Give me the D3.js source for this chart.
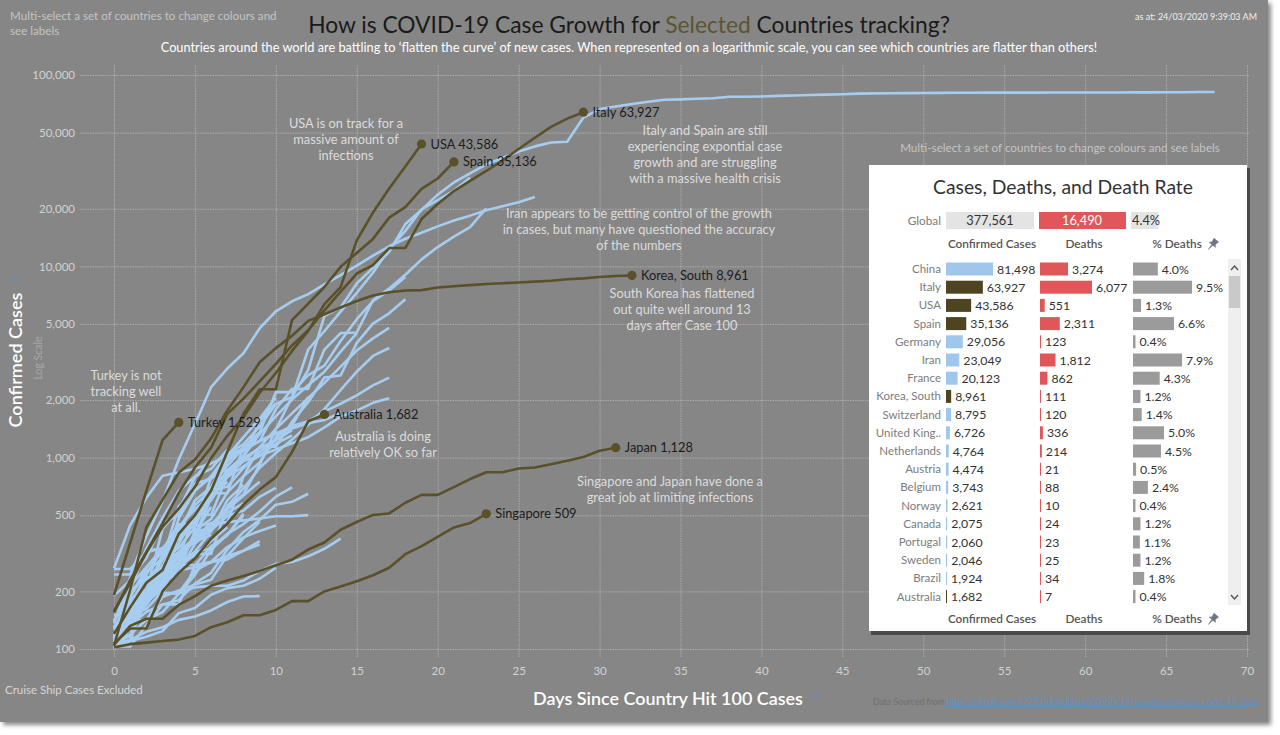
<!DOCTYPE html>
<html><head><meta charset="utf-8">
<script src="https://cdn.jsdelivr.net/npm/d3@7"></script>
<style>body{margin:0;background:#fff}svg{display:block}</style>
</head><body>
<svg id="c" width="1280" height="735"></svg>
<script>
// ---------- DATA ----------
const xTicks = [0,5,10,15,20,25,30,35,40,45,50,55,60,65,70];
const yTicks = [100,200,500,1000,2000,5000,10000,20000,50000,100000];

// highlighted (selected) countries: confirmed cases by day since 100 cases
const selectedNames = ["Italy","USA","Spain","Korea, South","Turkey","Australia","Japan","Singapore"];
const italy = [155,229,322,453,655,888,1128,1694,2036,2502,3089,3858,4636,5883,7375,9172,10149,12462,12462,17660,21157,24747,27980,31506,35713,41035,47021,53578,59138,63927];
const usa = [158,221,319,435,541,704,994,1301,1630,2183,2770,3613,4596,6344,7787,13677,19100,25489,33276,43586];
const spain = [120,165,222,259,400,500,673,1073,1695,2277,2277,5232,6391,7798,9942,11748,13910,17963,20410,25374,28768,35136];
const korea = [104,204,433,602,833,977,1261,1766,2337,3150,3736,4335,5186,5621,6088,6593,7041,7314,7478,7513,7755,7869,7979,8086,8162,8236,8320,8413,8565,8652,8799,8897,8961];
const turkey = [191,359,670,1236,1529];
const australia = [107,128,128,200,250,297,377,452,568,681,791,1071,1549,1682];
const japan = [105,132,144,144,170,189,214,228,241,256,274,293,331,360,420,461,502,511,581,639,639,701,773,839,839,878,889,924,963,1007,1086,1128];
const singapore = [102,106,108,110,112,117,130,138,150,150,160,178,178,200,212,226,243,266,313,345,385,432,455,509];
const selectedValues = [italy,usa,spain,korea,turkey,australia,japan,singapore];

// other countries
const china = [104,130,172,221,290,378,446,548,643,920,1406,2075,2877,5509,6087,8141,9802,11891,16630,19716,23707,27440,30587,34110,36814,39829,42354,44386,44759,59895,66358,68413,70513,72434,74211,74619,75077,75550,77001,77022,77241,77754,78166,78600,78928,79356,79932,80136,80261,80386,80537,80690,80770,80823,80860,80887,80921,80932,80945,80977,81003,81033,81058,81102,81156,81250,81305,81435,81498];
const germany = [130,159,196,262,482,670,799,1040,1176,1457,1908,2078,3675,4585,5795,7272,9257,12327,15320,19848,22213,24873,29056];
const iran = [245,245,388,593,978,1501,2336,2922,3513,4747,5823,6566,7161,8042,9000,10075,11364,12729,13938,14991,16169,17361,18407,19644,20610,21638,23049];
const france = [100,130,191,204,288,380,656,957,1134,1217,1792,2289,2289,3672,4480,4513,6650,7652,9043,10871,12612,14282,16018,20123];
const switzerland = [114,214,268,337,374,491,652,652,1139,1359,2200,2200,2700,3028,4075,5294,6575,7474,8795];
const uk = [115,163,206,273,321,382,456,456,798,1140,1140,1543,1950,2626,2689,3983,5018,5683,6726];
const netherlands = [128,188,265,321,382,503,503,804,959,1135,1413,1705,2051,2460,2994,3631,4204,4764];
const austria = [104,131,182,246,302,504,655,860,1018,1332,1646,2013,2388,2814,3582,4474];
const belgium = [109,169,200,239,267,314,314,559,689,886,1058,1243,1486,1795,2257,2815,3401,3743];
const norway = [108,147,176,205,400,598,702,996,1090,1221,1333,1463,1550,1746,1914,2118,2385,2621];
const canada = [108,117,193,198,252,415,478,657,800,943,1277,1469,2075];
const portugal = [112,169,245,331,448,448,785,1020,1280,1600,2060];
const sweden = [101,161,203,248,355,500,599,814,961,1022,1103,1190,1279,1439,1639,1763,1934,2046];
const brazil = [151,151,162,200,321,372,621,793,1021,1546,1924];
const denmark = [264,444,617,804,836,875,933,1025,1116,1225,1337,1420,1514,1572,1718];
const malaysia = [129,149,197,238,428,566,673,790,900,1030,1183,1306];
const israel = [126,178,193,298,337,433,677,705,883,1071,1238];
const czechia = [141,189,253,298,396,464,694,833,995,1120,1236,1394];
const ireland = [129,169,223,292,557,683,785,906,1125,1329];
const luxembourg = [140,203,335,484,670,798,875,1099];
const ecuador = [111,168,199,426,532,789,981];
const chile = [155,201,238,238,434,537,632,746];
const pakistan = [136,236,299,454,501,730,776,875];
const poland = [103,119,177,238,251,355,425,536,634,749];
const finland = [109,156,225,244,277,321,336,400,450,523,626,700];
const greece = [190,228,331,331,387,418,418,495,530,624,695];
const thailand = [114,147,177,212,272,322,411,599,721];
const saudi = [103,103,133,171,171,274,344,392,511];
const indonesia = [117,134,172,227,311,369,450,514,579];
const iceland = [103,134,156,171,180,220,250,330,409,473,568,588,648];
const qatar = [262,262,320,337,401,439,452,460,470,481,494,494,501];
const philippines = [111,140,142,187,202,217,230,307,380,462];
const slovenia = [141,181,219,253,275,275,286,341,383,414,442];
const egypt = [110,150,196,196,196,256,285,294,327,366];
const india = [113,119,142,156,194,244,330,396,499];
const romania = [131,158,184,260,277,308,367,433];
const bahrain = [109,110,195,195,195,210,214,214,228,256,278,285,305,334,377];
const estonia = [115,171,205,225,258,267,283,306,326,352];
const russia = [114,147,199,253,306,367,438];
const southAfrica = [116,116,202,240,274,402,554];
const mexico = [118,164,203,251,316,367];
const peru = [117,145,234,234,318,363,395];
const kuwait = [104,112,123,130,142,148,159,176,188,189];
const iraq = [101,110,116,124,154,164,192,208,214,233,266];
const croatia = [105,128,206,254,315,382];
const panama = [109,137,200,313,345];
const colombia = [102,128,196,231,277];
const serbia = [103,135,171,222,249];
const otherValues = [china,germany,iran,france,switzerland,uk,netherlands,austria,belgium,norway,canada,portugal,sweden,brazil,denmark,malaysia,israel,czechia,ireland,luxembourg,ecuador,chile,pakistan,poland,finland,greece,thailand,saudi,indonesia,iceland,qatar,philippines,slovenia,egypt,india,romania,bahrain,estonia,russia,southAfrica,mexico,peru,kuwait,iraq,croatia,panama,colombia,serbia];

// table
const tableCountries = ["China","Italy","USA","Spain","Germany","Iran","France","Korea, South","Switzerland","United King..","Netherlands","Austria","Belgium","Norway","Canada","Portugal","Sweden","Brazil","Australia"];
const tableCases = [81498,63927,43586,35136,29056,23049,20123,8961,8795,6726,4764,4474,3743,2621,2075,2060,2046,1924,1682];
const tableDeaths = [3274,6077,551,2311,123,1812,862,111,120,336,214,21,88,10,24,23,25,34,7];
const tablePct = [4.0,9.5,1.3,6.6,0.4,7.9,4.3,1.2,1.4,5.0,4.5,0.5,2.4,0.4,1.2,1.1,1.2,1.8,0.4];
const tableSelected = ["Italy","USA","Spain","Korea, South","Australia"];
const globalCases = 377561, globalDeaths = 16490, globalPct = 4.4;

const annotations = [
  ["USA is on track for a","massive amount of","infections"],
  ["Italy and Spain are still","experiencing expontial case","growth and are struggling","with a  massive health crisis"],
  ["Iran appears to be getting control of the growth","in cases, but many have questioned the accuracy","of the numbers"],
  ["South Korea has flattened","out quite well around 13","days after Case 100"],
  ["Turkey is not","tracking well","at all."],
  ["Australia is doing","relatively OK so far"],
  ["Singapore and Japan have done a","great job at limiting infections"]
];

// ---------- DRAW ----------
const FONT = "Lato, 'Noto Sans', sans-serif";
const BLUE = "#a6cdef", OLIVE = "#5a5029", BG = "#868686";
const svg = d3.select("#c").attr("font-family", FONT);
const fmt = d3.format(",");

function fit(t, target){
  const len = t.node().getComputedTextLength();
  const fs = parseFloat(t.attr("font-size")) * target / len;
  t.attr("font-size", fs); return fs;
}
function pin(x0, y0, col){
  svg.append("path").attr("transform", `translate(${x0},${y0}) rotate(40)`)
    .attr("d","M-3,-5 L3,-5 L2,-1 L4,1 L-4,1 L-2,-1 Z M-0.6,1 L0.6,1 L0,7 Z")
    .attr("fill", col).attr("stroke", col).attr("stroke-width", 0.6);
}

const defs = svg.append("defs");
defs.append("filter").attr("id","sh").attr("x","-5%").attr("y","-5%").attr("width","110%").attr("height","110%")
  .append("feGaussianBlur").attr("stdDeviation", 2.2);
svg.append("rect").attr("x",3).attr("y",3).attr("width",1268).attr("height",722).attr("fill","#8a8a8a").attr("filter","url(#sh)");
svg.append("rect").attr("width",1268).attr("height",722).attr("fill",BG);

const x = d3.scaleLinear().domain([0,70]).range([114,1247]);
const y = d3.scaleLog().domain([100,100000]).range([649,75]);

const gy = svg.append("g").attr("transform","translate(80,0)")
  .call(d3.axisLeft(y).tickValues(yTicks).tickFormat(fmt).tickSizeInner(-1170).tickSizeOuter(0).tickPadding(5));
gy.select(".domain").remove();
gy.selectAll("line").attr("stroke","#ababab").attr("stroke-dasharray","1.5,1");
gy.selectAll("text").attr("fill","#d2d2d2").attr("font-size",11.5).attr("font-family",FONT);

const gx = svg.append("g").attr("transform","translate(0,657)")
  .call(d3.axisBottom(x).tickValues(xTicks).tickSizeInner(-592).tickSizeOuter(0).tickPadding(10));
gx.select(".domain").remove();
gx.selectAll("line").attr("stroke","#ababab").attr("stroke-dasharray","1.5,1");
gx.selectAll("text").attr("fill","#d2d2d2").attr("font-size",11.5).attr("font-family",FONT);

const line = d3.line().x((d,i)=>x(i)).y(d=>y(d));
svg.append("g").selectAll("path").data(otherValues).join("path")
  .attr("d", line).attr("fill","none").attr("stroke",BLUE).attr("stroke-width",2.6).attr("stroke-linejoin","round");
svg.append("g").selectAll("path").data(selectedValues).join("path")
  .attr("d", line).attr("fill","none").attr("stroke",OLIVE).attr("stroke-width",2.6).attr("stroke-linejoin","round");
svg.append("g").selectAll("circle").data(selectedValues).join("circle")
  .attr("cx", d=>x(d.length-1)).attr("cy", d=>y(d[d.length-1])).attr("r",4.6).attr("fill",OLIVE);
svg.append("g").selectAll("text").data(selectedValues).join("text")
  .attr("x", d=>x(d.length-1)+9).attr("y", d=>y(d[d.length-1])+4.5)
  .attr("font-size",12.8).attr("fill","#1c1c1c")
  .text((d,i)=>selectedNames[i]+" "+fmt(d[d.length-1]));

// annotations
const annPos = [[346,123],[705,130],[639,213],[682,293],[126,375],[383,436],[670,481]];
const annG = svg.append("g");
annotations.forEach((lines,k)=>{
  lines.forEach((s,j)=>{
    annG.append("text").attr("x",annPos[k][0]).attr("y",annPos[k][1]+j*16+4.5)
      .attr("text-anchor","middle").attr("font-size",12.8).attr("fill","#dcdcdc").text(s);
  });
});

// titles
const t1 = svg.append("text").attr("x",629).attr("y",33).attr("text-anchor","middle").attr("font-size",22).attr("fill","#1a1a1a");
t1.append("tspan").text("How is COVID-19 Case Growth for ");
t1.append("tspan").attr("fill","#5c5430").text("Selected");
t1.append("tspan").text(" Countries tracking?");
fit(t1, 642);
const t2 = svg.append("text").attr("x",629).attr("y",52).attr("text-anchor","middle").attr("font-size",12.5).attr("fill","#ffffff")
  .text("Countries around the world are battling to \u2018flatten the curve\u2019 of new cases.  When represented on a logarithmic scale, you can see which countries are flatter than others!");
fit(t2, 938);
const tl = svg.append("text").attr("x",10).attr("y",20).attr("font-size",11).attr("fill","#c4c4c4").text("Multi-select a set of countries to change colours and");
const fsTl = fit(tl, 267);
svg.append("text").attr("x",10).attr("y",35).attr("font-size",fsTl).attr("fill","#c4c4c4").text("see labels");
const tr = svg.append("text").attr("x",1257).attr("y",20).attr("text-anchor","end").attr("font-size",11).attr("fill","#f0f0f0").text("as at: 24/03/2020 9:39:03 AM");
fit(tr, 122);
const ms = svg.append("text").attr("x",1060).attr("y",152).attr("text-anchor","middle").attr("font-size",11).attr("fill","#c4c4c4").text("Multi-select a set of countries to change colours and see labels");
fit(ms, 320);
const cr = svg.append("text").attr("x",5).attr("y",694).attr("font-size",11).attr("fill","#d6d6d6").text("Cruise Ship Cases Excluded");
fit(cr, 138);
const xt = svg.append("text").attr("x",668).attr("y",705).attr("text-anchor","middle").attr("font-size",17).attr("font-weight",600).attr("fill","#ffffff").text("Days Since Country Hit 100 Cases");
fit(xt, 270);
pin(815, 697, "#7d8897");
const yt = svg.append("text").attr("transform","translate(22,360) rotate(-90)").attr("text-anchor","middle").attr("font-size",17).attr("font-weight",600).attr("fill","#ffffff").text("Confirmed Cases");
fit(yt, 135);
svg.append("text").attr("transform","translate(42,358) rotate(-90)").attr("text-anchor","middle").attr("font-size",10.5).attr("fill","#a8a8a8").text("Log Scale");
pin(14, 281, "#7d8897");
const ds = svg.append("text").attr("x",873).attr("y",705).attr("font-size",10).attr("fill","#707070");
ds.append("tspan").text("Data Sourced from ");
ds.append("tspan").attr("fill","#5f93c4").attr("text-decoration","underline").text("https://github.com/CSSEGISandData/COVID-19/tree/master/csse_covid_19_data");
fit(ds, 385);

// ---------- PANEL ----------
svg.append("rect").attr("x",871).attr("y",168).attr("width",379).attr("height",467).attr("fill","#4a4a4a");
svg.append("rect").attr("x",869).attr("y",165).attr("width",378).attr("height",466).attr("fill","#ffffff");
const pt = svg.append("text").attr("x",1063).attr("y",194).attr("text-anchor","middle").attr("font-size",18).attr("fill","#333").text("Cases, Deaths, and Death Rate");
fit(pt, 260);

const cx0 = 946, dx0 = 1040, px0 = 1133;
const cScale = d3.scaleLinear().domain([0, d3.max(tableCases)]).range([0, 47]);
const dScale = d3.scaleLinear().domain([0, d3.max(tableDeaths)]).range([0, 52]);
const pScale = d3.scaleLinear().domain([0, d3.max(tablePct)]).range([0, 59]);

// global row
svg.append("text").attr("x",941).attr("y",225).attr("text-anchor","end").attr("font-size",11.8).attr("fill","#7c7c7c").text("Global");
svg.append("rect").attr("x",946).attr("y",212).attr("width",88).attr("height",17).attr("fill","#e4e4e4");
svg.append("text").attr("x",990).attr("y",225).attr("text-anchor","middle").attr("font-size",12.8).attr("fill","#333").text(fmt(globalCases));
svg.append("rect").attr("x",1039).attr("y",212).attr("width",87).attr("height",17).attr("fill","#e15759");
svg.append("text").attr("x",1082).attr("y",225).attr("text-anchor","middle").attr("font-size",12.8).attr("fill","#fff").text(fmt(globalDeaths));
svg.append("rect").attr("x",1131).attr("y",212).attr("width",pScale(globalPct)).attr("height",17).attr("fill","#e4e4e4");
svg.append("text").attr("x",1132).attr("y",225).attr("font-size",12.8).attr("fill","#333").text(globalPct.toFixed(1)+"%");

function headers(yy){
  svg.append("text").attr("x",992).attr("y",yy).attr("text-anchor","middle").attr("font-size",11.8).attr("font-weight",600).attr("fill","#555").text("Confirmed Cases");
  svg.append("text").attr("x",1084).attr("y",yy).attr("text-anchor","middle").attr("font-size",11.8).attr("font-weight",600).attr("fill","#555").text("Deaths");
  svg.append("text").attr("x",1177).attr("y",yy).attr("text-anchor","middle").attr("font-size",11.8).attr("font-weight",600).attr("fill","#555").text("% Deaths");
  pin(1213, yy-4, "#6b7585");
}
headers(248);
headers(623);

const rowY = d3.scaleLinear().domain([0,18]).range([269, 596.6]);
const rows = svg.append("g").selectAll("g").data(tableCountries).join("g")
  .attr("transform",(d,i)=>`translate(0,${rowY(i)})`);
rows.append("text").attr("x",941).attr("y",4).attr("text-anchor","end").attr("font-size",11.5).attr("fill","#7c7c7c").text(d=>d);
rows.append("rect").attr("x",cx0).attr("y",-6.5).attr("height",13).attr("width",(d,i)=>Math.max(1,cScale(tableCases[i])))
  .attr("fill",d=>tableSelected.includes(d)?"#4f4422":"#9fc7ec");
rows.append("text").attr("x",(d,i)=>cx0+Math.max(1,cScale(tableCases[i]))+4).attr("y",4.5).attr("font-size",12.3).attr("fill","#333").text((d,i)=>fmt(tableCases[i]));
rows.append("rect").attr("x",dx0).attr("y",-6.5).attr("height",13).attr("width",(d,i)=>Math.max(1,dScale(tableDeaths[i]))).attr("fill","#e15759");
rows.append("text").attr("x",(d,i)=>dx0+Math.max(1,dScale(tableDeaths[i]))+4).attr("y",4.5).attr("font-size",12.3).attr("fill","#333").text((d,i)=>fmt(tableDeaths[i]));
rows.append("rect").attr("x",px0).attr("y",-6.5).attr("height",13).attr("width",(d,i)=>Math.max(1.5,pScale(tablePct[i]))).attr("fill","#9b9b9b");
rows.append("text").attr("x",(d,i)=>px0+Math.max(1.5,pScale(tablePct[i]))+4).attr("y",4.5).attr("font-size",12.3).attr("fill","#333").text((d,i)=>tablePct[i].toFixed(1)+"%");

// scrollbar
svg.append("rect").attr("x",1228).attr("y",259).attr("width",13).attr("height",346).attr("fill","#efefef");
svg.append("rect").attr("x",1229).attr("y",276).attr("width",11).attr("height",32).attr("fill","#c9c9c9");
svg.append("path").attr("d","M1231,270 L1234.5,266 L1238,270").attr("fill","none").attr("stroke","#555").attr("stroke-width",1.4);
svg.append("path").attr("d","M1231,595 L1234.5,599 L1238,595").attr("fill","none").attr("stroke","#555").attr("stroke-width",1.4);
</script>
</body></html>
